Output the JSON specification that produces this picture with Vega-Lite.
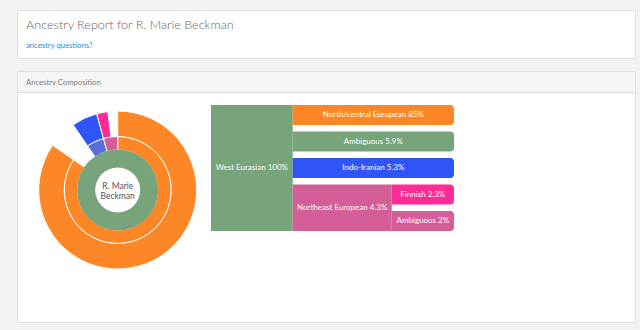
{
  "$schema": "https://vega.github.io/schema/vega-lite/v6.json",
  "background": "#f3f3f3",
  "padding": {"left": 16, "top": 9, "right": 5, "bottom": 7},
  "config": {
    "font": "Lato",
    "view": {"fill": "white", "stroke": "#dedede"}
  },
  "datasets": {
    "sunburst": [
      {"ring": 1, "seq": 0, "name": "West Eurasian", "pct": 100},
      {"ring": 2, "seq": 0, "name": "North/central European", "pct": 85},
      {"ring": 2, "seq": 1, "name": "Ambiguous", "pct": 5.9},
      {"ring": 2, "seq": 2, "name": "Indo-Iranian", "pct": 5.3},
      {"ring": 2, "seq": 3, "name": "Northeast European", "pct": 4.3},
      {"ring": 3, "seq": 0, "name": "North/central European", "pct": 85},
      {"ring": 3, "seq": 1, "name": "Ambiguous", "pct": 5.9},
      {"ring": 3, "seq": 2, "name": "Indo-Iranian", "pct": 5.3},
      {"ring": 3, "seq": 3, "name": "Finnish", "pct": 2.3},
      {"ring": 3, "seq": 4, "name": "Ambiguous", "pct": 2}
    ],
    "nodes": [
      {"path": "West Eurasian", "label": "West Eurasian 100%", "pct": 100, "depth": 0, "depth_end": 1, "leaf_start": 0, "leaf_end": 5},
      {"path": "West Eurasian > North/central European", "label": "North/central European 85%", "pct": 85, "depth": 1, "depth_end": 3, "leaf_start": 0, "leaf_end": 1},
      {"path": "West Eurasian > Ambiguous", "label": "Ambiguous 5.9%", "pct": 5.9, "depth": 1, "depth_end": 3, "leaf_start": 1, "leaf_end": 2},
      {"path": "West Eurasian > Indo-Iranian", "label": "Indo-Iranian 5.3%", "pct": 5.3, "depth": 1, "depth_end": 3, "leaf_start": 2, "leaf_end": 3},
      {"path": "West Eurasian > Northeast European", "label": "Northeast European 4.3%", "pct": 4.3, "depth": 1, "depth_end": 2, "leaf_start": 3, "leaf_end": 5},
      {"path": "West Eurasian > Northeast European > Finnish", "label": "Finnish 2.3%", "pct": 2.3, "depth": 2, "depth_end": 3, "leaf_start": 3, "leaf_end": 4},
      {"path": "West Eurasian > Northeast European > Ambiguous", "label": "Ambiguous 2%", "pct": 2, "depth": 2, "depth_end": 3, "leaf_start": 4, "leaf_end": 5}
    ]
  },
  "spacing": 13,
  "bounds": "flush",
  "vconcat": [
    {
      "width": 618,
      "height": 48,
      "view": {"fill": "white", "stroke": "#dedede"},
      "title": {
        "text": "Ancestry Report for R. Marie Beckman",
        "subtitle": "ancestry questions?",
        "anchor": "start",
        "frame": "group",
        "offset": -40,
        "dx": 9,
        "font": "Lato",
        "fontSize": 12.6,
        "fontWeight": 300,
        "color": "#666666",
        "subtitleFont": "Lato",
        "subtitleFontSize": 7.7,
        "subtitleColor": "#2a8bd4",
        "subtitlePadding": 11
      },
      "data": {"values": [{}]},
      "mark": {"type": "text", "text": ""}
    },
    {
      "spacing": 0,
      "bounds": "flush",
      "vconcat": [
        {
          "width": 618,
          "height": 21,
          "view": {"fill": "#f5f5f5", "stroke": "#dedede"},
          "title": {
            "text": "Ancestry Composition",
            "anchor": "start",
            "frame": "group",
            "offset": -16,
            "dx": 9,
            "font": "Lato",
            "fontSize": 7.7,
            "fontWeight": "normal",
            "color": "#808080"
          },
          "data": {"values": [{}]},
          "mark": {"type": "text", "text": ""}
        },
        {
          "width": 618,
          "height": 230,
          "resolve": {"scale": {"color": "independent"}},
          "layer": [
            {
              "data": {"name": "sunburst"},
              "transform": [
                {"stack": "pct", "groupby": ["ring"], "sort": [{"field": "seq", "order": "ascending"}], "offset": "normalize", "as": ["v0", "v1"]},
                {"filter": "datum.name !== 'Ambiguous'"}
              ],
              "encoding": {
                "theta": {"field": "v0", "type": "quantitative", "scale": {"domain": [0, 1], "range": [0, 6.283185]}},
                "theta2": {"field": "v1"},
                "color": {"field": "name", "type": "nominal", "legend": null,
                  "scale": {"domain": ["West Eurasian", "North/central European", "Indo-Iranian", "Northeast European", "Finnish"], "range": ["#77a47b", "#fd8726", "#2f55f9", "#d35e98", "#fd2c96"]}}
              },
              "layer": [
                {
                  "transform": [{"filter": "datum.ring === 2"}],
                  "mark": {"type": "arc", "radius": 53.5, "radius2": 40, "stroke": "white", "strokeWidth": 1, "xOffset": -208.3, "yOffset": -17},
                  "encoding": {
                    "color": {
                      "condition": {"test": "datum.name === 'Indo-Iranian'", "value": "#5a6fd6"},
                      "field": "name", "type": "nominal", "legend": null,
                      "scale": {"domain": ["West Eurasian", "North/central European", "Indo-Iranian", "Northeast European", "Finnish"], "range": ["#77a47b", "#fd8726", "#2f55f9", "#d35e98", "#fd2c96"]}}
                  }
                },
                {
                  "transform": [{"filter": "datum.ring === 3"}],
                  "mark": {"type": "arc", "radius": 79, "radius2": 53.5, "stroke": "white", "strokeWidth": 1, "xOffset": -208.3, "yOffset": -17}
                },
                {
                  "transform": [{"filter": "datum.ring === 1"}],
                  "mark": {"type": "arc", "radius": 40.6, "radius2": 22.5, "xOffset": -208.3, "yOffset": -17}
                }
              ]
            },
            {
              "data": {"values": [{"person": "R. Marie Beckman"}]},
              "mark": {"type": "text", "text": ["R. Marie", "Beckman"], "font": "Lato", "fontSize": 8.5, "lineHeight": 10.5, "color": "#555555", "align": "center", "baseline": "middle", "xOffset": -208.3, "yOffset": -17, "dy": -4.5}
            },
            {
              "data": {"name": "nodes"},
              "encoding": {
                "x": {"field": "depth", "type": "quantitative", "axis": null,
                  "scale": {"domain": [0, 1, 2, 3], "range": [194, 275.7, 374.7, 437], "nice": false, "zero": false}},
                "y": {"field": "leaf_start", "type": "quantitative", "axis": null,
                  "scale": {"domain": [0, 5], "range": [13, 145.5], "nice": false, "zero": false}}
              },
              "layer": [
                {
                  "transform": [{"filter": "datum.depth_end < 3"}],
                  "mark": {"type": "rect", "y2Offset": -6.5},
                  "encoding": {
                    "x2": {"field": "depth_end"},
                    "y2": {"field": "leaf_end"},
                    "color": {"field": "path", "type": "nominal", "legend": null,
                      "scale": {"domain": ["West Eurasian", "West Eurasian > North/central European", "West Eurasian > Ambiguous", "West Eurasian > Indo-Iranian", "West Eurasian > Northeast European", "West Eurasian > Northeast European > Finnish", "West Eurasian > Northeast European > Ambiguous"],
                        "range": ["#77a47b", "#fd8726", "#77a47b", "#2f55f9", "#d35e98", "#fd2c96", "#d35e98"]}}
                  }
                },
                {
                  "transform": [{"filter": "datum.depth_end === 3"}],
                  "mark": {"type": "rect", "y2Offset": -6.5, "cornerRadiusTopRight": 3.5, "cornerRadiusBottomRight": 3.5},
                  "encoding": {
                    "x2": {"field": "depth_end"},
                    "y2": {"field": "leaf_end"},
                    "color": {"field": "path", "type": "nominal", "legend": null,
                      "scale": {"domain": ["West Eurasian", "West Eurasian > North/central European", "West Eurasian > Ambiguous", "West Eurasian > Indo-Iranian", "West Eurasian > Northeast European", "West Eurasian > Northeast European > Finnish", "West Eurasian > Northeast European > Ambiguous"],
                        "range": ["#77a47b", "#fd8726", "#77a47b", "#2f55f9", "#d35e98", "#fd2c96", "#d35e98"]}}
                  }
                },
                {
                  "transform": [{"filter": "datum.depth === 0"}],
                  "mark": {"type": "text", "font": "Lato", "fontSize": 8, "color": "white", "align": "center", "baseline": "middle", "dx": 40.85, "dy": 63},
                  "encoding": {"text": {"field": "label", "type": "nominal"}}
                },
                {
                  "transform": [{"filter": "datum.depth === 1 && datum.depth_end === 3"}],
                  "mark": {"type": "text", "font": "Lato", "fontSize": 8, "color": "white", "align": "center", "baseline": "middle", "dx": 80.65, "dy": 10},
                  "encoding": {"text": {"field": "label", "type": "nominal"}}
                },
                {
                  "transform": [{"filter": "datum.depth === 1 && datum.depth_end === 2"}],
                  "mark": {"type": "text", "font": "Lato", "fontSize": 8, "color": "white", "align": "center", "baseline": "middle", "dx": 49.5, "dy": 23.25},
                  "encoding": {"text": {"field": "label", "type": "nominal"}}
                },
                {
                  "transform": [{"filter": "datum.depth === 2"}],
                  "mark": {"type": "text", "font": "Lato", "fontSize": 8, "color": "white", "align": "center", "baseline": "middle", "dx": 31.15, "dy": 10},
                  "encoding": {"text": {"field": "label", "type": "nominal"}}
                }
              ]
            }
          ]
        }
      ]
    }
  ]
}
